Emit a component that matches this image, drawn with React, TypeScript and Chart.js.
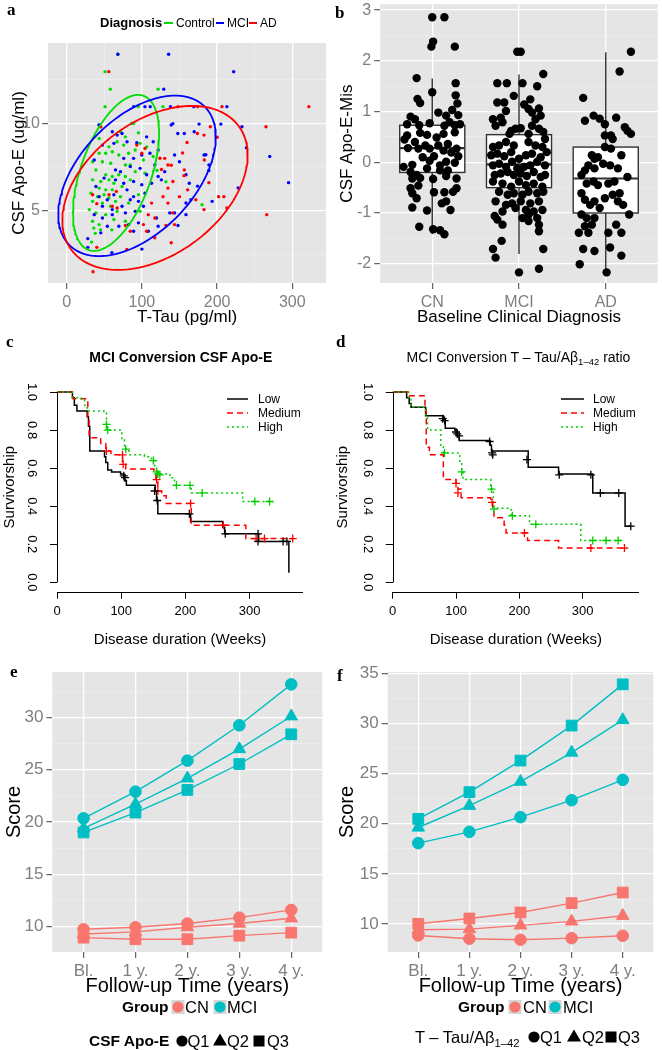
import React, { useEffect, useRef } from 'react';
import { Chart, registerables } from 'chart.js';

Chart.register(...registerables);

const SANS = "'Liberation Sans', Arial, Helvetica, sans-serif";
const SERIF = "'Liberation Serif', 'Times New Roman', Times, serif";

// ---------------- Panel a data ----------------
const diagnosisGroups = ['Control', 'MCI', 'AD'];
const diagnosisColors = ['#00DD00', '#0000FF', '#FF0000'];
const controlPoints = [
  [68, 13.95], [51, 12.95], [58, 11.95], [121.5, 11.95], [51, 10.95], [95, 10.95], [128, 10.95], [86.7, 10.0],
  [88.9, 9.98], [71.5, 9.51], [95.4, 9.45], [78, 9.22], [43.1, 9.13], [67.1, 8.94], [56.2, 8.65], [75.8, 8.75], [97.6, 8.85],
  [43.1, 8.28], [51.8, 8.28], [60.6, 8.37], [69.3, 8.18], [82.3, 8.28], [91.1, 8.47], [106.3, 8.65],
  [34.4, 7.8], [47.5, 7.8], [58.4, 7.71], [78, 7.61], [84.5, 7.61], [102, 7.9],
  [38.8, 7.33], [51.8, 7.05], [60.6, 6.95], [69.3, 7.05], [78, 6.95], [91.1, 7.23], [104.1, 7.14],
  [34.4, 6.76], [45.3, 6.67], [56.2, 6.76], [62.7, 6.57], [84.5, 6.76],
  [43.1, 6.29], [51.8, 6.19], [60.6, 6.19], [73.6, 6.38],
  [32.2, 6.0], [41, 5.8], [49.7, 5.91], [56.2, 5.72], [71.5, 5.8], [95.4, 5.91],
  [34.4, 5.53], [47.5, 5.43], [58.4, 5.25], [64.9, 5.53], [82.3, 5.43],
  [30, 5.06], [38.8, 4.87], [51.8, 4.77], [67.1, 4.96], [97.6, 4.96],
  [34.4, 4.39], [43.1, 4.2], [62.7, 4.49], [78, 4.39],
  [33, 3.2], [38, 3.7], [36, 4.0], [45, 3.9], [60, 3.9], [180, 5.34], [132, 6.65], [43, 9.9], [115, 8.1], [120, 7.3],
];
const mciPoints = [
  [68, 13.95], [135.5, 13.95], [222, 12.95], [129, 11.95], [89, 10.95], [104, 10.95], [111, 10.95], [138, 10.95], [169, 10.95], [213, 10.95],
  [43, 9.9], [139, 9.9], [176, 9.95], [205, 9.95], [233, 9.8], [239, 8.6], [270, 8.1], [295, 6.6], [228, 6.3], [185, 8.2],
  [189, 7.3], [174, 6.4], [148, 4.15], [100, 2.8], [60, 2.6], [28, 3.4], [28, 2.9], [137, 4.87], [158.6, 5.44],
  [60.6, 9.51], [67.1, 9.32], [73.6, 9.41], [47.5, 8.75], [36.6, 7.9], [62.7, 8.85], [80.2, 8.94], [93.2, 8.88], [106.3, 9.22],
  [115, 8.94], [121.6, 8.47], [110.7, 8.28], [99.8, 8.18], [88.9, 7.99], [75.8, 7.99], [64.9, 7.33], [71.5, 7.23], [84.5, 7.52],
  [97.6, 7.42], [106.3, 7.05], [117.2, 7.61], [121.6, 6.95], [49.7, 6.86], [38.8, 6.38], [64.9, 6.76], [75.8, 6.57], [88.9, 6.67],
  [99.8, 6.48], [112.8, 6.57], [130.3, 7.23], [125.9, 6.76], [43.1, 5.8], [54, 5.62], [62.7, 5.91], [80.2, 6.19], [88.9, 5.8],
  [104.1, 6.0], [47.5, 5.25], [60.6, 5.06], [73.6, 5.25], [84.5, 5.62], [95.4, 5.53], [78, 4.87], [91.1, 4.96], [102, 5.25],
  [36.6, 4.77], [47.5, 4.58], [60.6, 4.77], [69.3, 4.11], [82.3, 4.2], [54, 4.11], [45.3, 3.73], [95.4, 4.3], [141.2, 9.98],
  [147.7, 9.41], [156.4, 9.41], [169.5, 9.51], [143.4, 8.18], [149.9, 7.8], [158.6, 7.05], [163, 6.57], [182.6, 8.18],
  [189.1, 7.61], [193.4, 5.53], [165.1, 5.62], [158.6, 4.77], [143.4, 4.87], [119.4, 4.58], [121.6, 4.11], [108.5, 3.82], [88.9, 3.82],
];
const adPoints = [
  [56, 12.95], [148, 10.95], [174, 10.95], [206.5, 10.95], [322, 10.95], [191, 9.8], [265, 9.8], [200, 9.2], [160, 8.9],
  [183, 7.9], [189, 6.6], [202, 5.8], [209, 5.8], [213, 5.15], [266, 4.77], [154, 8.3], [156, 7.0], [139, 7.6], [126, 7.35],
  [124, 8.0], [141, 4.87], [132, 4.15], [139, 3.16], [117, 3.45], [80, 2.78], [35, 1.5], [40, 2.9],
  [45.3, 9.79], [104.1, 8.56], [99.8, 8.28], [130.3, 7.99], [134.6, 7.61], [156.4, 7.33], [141.2, 6.67], [134.6, 6.29],
  [128.1, 5.8], [149.9, 5.8], [160.8, 6.19], [171.7, 5.62], [134.6, 5.43], [112.8, 5.43], [108.5, 4.77], [117.2, 4.58],
  [102, 4.2], [143.4, 4.2], [78, 4.15], [84.5, 3.82], [60.6, 5.25], [67.1, 5.15], [56.2, 5.91], [34.4, 5.91], [106.3, 3.82],
  [182.6, 5.06], [173.8, 9.41], [182.6, 9.32], [93.2, 8.75], [40, 5.4], [66, 6.1],
];
const ellipseCenter = [[65.6, 7.16], [93.5, 6.99], [117.4, 6.30]];
const ellipseAxisU = [[29.3, 4.46], [50.5, 4.59], [49.2, 4.69]];
const ellipseAxisV = [[49.2, 0], [91.8, 0], [113, 0]];
const tauMajorTicks = [0, 100, 200, 300];
const tauMinorTicks = [50, 150, 250];
const apoeMajorTicks = [5, 10];
const apoeMinorTicks = [2.5, 7.5, 12.5];

// ---------------- Panel b data ----------------
const baselineCategories = ['CN', 'MCI', 'AD'];
const boxLower = [-1.42, -1.81, -2.16];
const boxQ1 = [-0.2, -0.5, -1.0];
const boxMedian = [0.28, -0.04, -0.32];
const boxQ3 = [0.73, 0.545, 0.3];
const boxUpper = [1.65, 1.73, 2.17];
const cnJitter = [
  [0.0, 2.86], [0.14, 2.86], [0.01, 2.38], [-0.01, 2.28], [0.26, 2.28], [-0.18, 1.66], [0.0, 1.38], [0.27, 1.56], [-0.17, 1.25],
  [-0.14, 1.17], [0.27, 1.32], [0.29, 1.16], [0.07, 0.98], [0.16, 0.92], [0.23, 1.03], [0.3, 0.93], [-0.25, 0.9], [-0.2, 0.85],
  [-0.29, 0.75], [-0.15, 0.73], [-0.03, 0.77], [0.14, 0.72], [0.2, 0.79], [0.26, 0.73], [0.32, 0.75], [-0.29, 0.53], [-0.14, 0.58],
  [-0.06, 0.54], [0.05, 0.49], [0.13, 0.56], [0.26, 0.59], [-0.32, 0.45], [-0.2, 0.4], [-0.08, 0.33], [0.07, 0.33], [0.18, 0.36],
  [0.28, 0.27], [-0.28, 0.28], [-0.16, 0.27], [-0.03, 0.27], [0.13, 0.23], [0.22, 0.19], [0.3, 0.12], [-0.11, 0.1], [-0.03, 0.03],
  [0.09, -0.06], [0.16, 0.01], [0.26, -0.01], [-0.33, -0.09], [-0.23, -0.05], [0.02, 0.12], [-0.25, -0.19], [-0.18, -0.25],
  [-0.06, -0.12], [0.09, -0.16], [0.18, -0.16], [0.28, -0.32], [-0.23, -0.32], [-0.14, -0.31], [-0.25, -0.51], [-0.16, -0.46],
  [0.01, -0.33], [0.16, -0.27], [0.28, -0.51], [-0.23, -0.61], [-0.18, -0.71], [0.14, -0.59], [0.24, -0.58], [0.02, -0.59],
  [-0.23, -0.89], [0.16, -0.77], [0.21, -0.94], [-0.06, -0.95], [0.11, -0.81], [-0.15, -1.27], [0.01, -1.32], [0.09, -1.34], [0.14, -1.42],
];
const mciJitter = [
  [-0.02, 2.18], [0.02, 2.18], [-0.25, 1.56], [-0.14, 1.56], [0.04, 1.56], [0.28, 1.74], [0.21, 1.5], [-0.06, 1.31], [0.13, 1.24],
  [-0.25, 1.18], [-0.17, 1.18], [0.06, 1.14], [0.11, 1.05], [0.23, 1.06], [-0.3, 0.85], [-0.21, 0.88], [-0.15, 1.01], [0.15, 0.98],
  [0.19, 0.85], [0.25, 0.92], [-0.27, 0.72], [-0.19, 0.79], [-0.09, 0.62], [-0.04, 0.66], [0.02, 0.67], [0.15, 0.72], [0.23, 0.66],
  [0.28, 0.6], [-0.11, 0.56], [0.11, 0.56], [-0.3, 0.3], [-0.23, 0.33], [-0.15, 0.4], [-0.06, 0.33], [0.11, 0.4], [0.19, 0.33],
  [0.27, 0.3], [0.3, 0.46], [-0.32, 0.14], [-0.25, 0.17], [-0.17, 0.12], [-0.09, 0.2], [0.0, 0.07], [0.08, 0.14], [0.15, 0.17],
  [0.25, 0.1], [0.32, 0.2], [-0.3, -0.06], [-0.23, -0.03], [-0.15, -0.09], [-0.08, 0.01], [-0.02, -0.12], [0.06, -0.09],
  [0.13, -0.06], [0.21, 0.01], [0.3, -0.06], [-0.28, -0.25], [-0.21, -0.22], [-0.13, -0.19], [-0.06, -0.25], [0.02, -0.22],
  [0.09, -0.27], [0.17, -0.19], [0.25, -0.29], [0.3, -0.25], [-0.3, -0.38], [-0.19, -0.42], [-0.09, -0.48], [0.0, -0.38],
  [0.08, -0.45], [0.17, -0.42], [0.27, -0.48], [-0.23, -0.58], [-0.13, -0.64], [-0.06, -0.61], [0.04, -0.64], [0.11, -0.58],
  [0.21, -0.61], [0.28, -0.58], [-0.27, -0.77], [-0.15, -0.84], [-0.08, -0.81], [0.02, -0.77], [0.13, -0.81], [0.23, -0.77],
  [-0.19, -0.97], [-0.04, -0.9], [0.08, -0.94], [0.17, -0.97], [0.27, -0.94], [-0.28, -1.06], [-0.25, -1.13], [0.04, -1.1],
  [0.11, -1.03], [0.21, -1.1], [0.11, -1.16], [0.23, -1.23], [-0.19, -1.23], [0.23, -1.36], [-0.2, -1.55], [-0.3, -1.71],
  [-0.27, -1.88], [0.28, -1.71], [0.0, -2.17], [0.23, -2.1],
];
const adJitter = [
  [0.29, 2.18], [0.16, 1.79], [-0.26, 1.27], [-0.24, 0.82], [-0.14, 0.92], [-0.07, 0.86], [-0.01, 0.75], [0.12, 0.88], [0.22, 0.69],
  [0.25, 0.62], [0.29, 0.56], [-0.01, 0.53], [0.06, 0.53], [0.08, 0.46], [-0.01, 0.3], [0.06, 0.27], [0.18, 0.14], [-0.16, 0.14],
  [-0.13, 0.07], [-0.09, 0.1], [-0.2, -0.06], [-0.24, -0.16], [-0.13, -0.12], [-0.03, -0.03], [0.05, -0.06], [0.14, -0.12],
  [0.25, -0.29], [-0.28, -0.25], [-0.22, -0.42], [-0.14, -0.38], [-0.09, -0.45], [0.03, -0.42], [0.1, -0.38], [0.16, -0.61],
  [-0.28, -0.61], [-0.24, -0.74], [-0.18, -0.84], [-0.13, -0.77], [-0.01, -0.71], [0.08, -0.64], [0.14, -0.77], [0.2, -0.84],
  [0.27, -1.03], [-0.28, -1.03], [-0.22, -1.1], [-0.13, -1.1], [-0.07, -0.9], [-0.24, -1.26], [-0.16, -1.23], [0.03, -1.39],
  [0.12, -1.23], [0.18, -1.39], [-0.31, -1.39], [-0.2, -1.39], [-0.26, -1.71], [-0.13, -1.75], [0.05, -1.68], [0.18, -1.84],
  [-0.3, -2.01], [0.01, -2.17],
];
const misMajorTicks = [-2, -1, 0, 1, 2, 3];
const misMinorTicks = [-1.5, -0.5, 0.5, 1.5, 2.5];

// ---------------- Panel c / d data (time in weeks, survival) ----------------
const strata = ['Low', 'Medium', 'High'];
const strataColors = ['#000000', '#FF0000', '#00CC00'];
const apoeLowCurve = [[0, 1], [24, 0.97], [27, 0.93], [31, 0.9], [47, 0.87], [49, 0.82], [51, 0.69], [74, 0.66], [76, 0.63], [79, 0.59], [85, 0.58], [99, 0.57], [104, 0.556], [105, 0.535], [108, 0.51], [153, 0.48], [155, 0.43], [157, 0.36], [208, 0.32], [258, 0.29], [261, 0.255], [314, 0.215], [361, 0.05]];
const apoeLowCensor = [[104, 0.56], [106, 0.55], [152, 0.48], [156, 0.43], [206, 0.36], [262, 0.255], [313, 0.255], [313, 0.215], [352, 0.215], [358, 0.215]];
const apoeMedCurve = [[0, 1], [25, 0.965], [48, 0.86], [50, 0.76], [68, 0.73], [76, 0.69], [84, 0.67], [102, 0.62], [107, 0.595], [151, 0.57], [154, 0.54], [157, 0.48], [163, 0.455], [170, 0.415], [209, 0.3], [294, 0.23], [367, 0.23]];
const apoeMedCensor = [[77, 0.69], [102, 0.67], [103, 0.62], [155, 0.54], [157, 0.48], [208, 0.415], [259, 0.3], [310, 0.23], [323, 0.23], [367, 0.23]];
const apoeHighCurve = [[0, 1], [24, 0.97], [38, 0.965], [43, 0.93], [47, 0.9], [73, 0.89], [77, 0.8], [101, 0.75], [105, 0.7], [112, 0.67], [136, 0.66], [147, 0.64], [152, 0.6], [155, 0.58], [159, 0.57], [176, 0.55], [183, 0.51], [209, 0.47], [289, 0.425], [336, 0.425]];
const apoeHighCensor = [[77, 0.83], [79, 0.8], [107, 0.7], [150, 0.64], [155, 0.58], [157, 0.57], [160, 0.565], [186, 0.51], [207, 0.51], [226, 0.47], [308, 0.425], [331, 0.425]];
const ratioLowCurve = [[0, 1], [22, 0.97], [26, 0.94], [29, 0.92], [52, 0.875], [80, 0.855], [83, 0.81], [98, 0.8], [102, 0.77], [105, 0.745], [154, 0.72], [156, 0.69], [214, 0.605], [262, 0.57], [316, 0.47], [367, 0.295], [376, 0.295]];
const ratioLowCensor = [[79, 0.86], [82, 0.85], [100, 0.79], [102, 0.78], [105, 0.77], [153, 0.74], [157, 0.68], [158, 0.67], [212, 0.645], [263, 0.565], [313, 0.565], [328, 0.47], [357, 0.47], [376, 0.295]];
const ratioMedCurve = [[0, 1], [24, 0.98], [51, 0.92], [53, 0.71], [58, 0.67], [80, 0.54], [100, 0.52], [103, 0.49], [108, 0.445], [155, 0.43], [158, 0.39], [160, 0.34], [176, 0.3], [179, 0.26], [213, 0.22], [262, 0.18], [370, 0.18]];
const ratioMedCensor = [[100, 0.52], [103, 0.47], [157, 0.42], [208, 0.26], [313, 0.18], [366, 0.18]];
const ratioHighCurve = [[0, 1], [25, 0.97], [29, 0.92], [52, 0.88], [55, 0.81], [60, 0.8], [76, 0.72], [80, 0.68], [106, 0.63], [109, 0.58], [111, 0.54], [155, 0.49], [159, 0.39], [187, 0.35], [216, 0.305], [297, 0.22], [360, 0.22]];
const ratioHighCensor = [[82, 0.68], [109, 0.58], [156, 0.49], [160, 0.385], [189, 0.35], [226, 0.305], [316, 0.22], [337, 0.22], [356, 0.22]];
const weekTicks = [0, 100, 200, 300];
const survTicks = [0, 0.2, 0.4, 0.6, 0.8, 1.0];

// ---------------- Panel e / f data ----------------
const followLabels = ['Bl.', '1 y.', '2 y.', '3 y.', '4 y.'];
const quartiles = ['Q1', 'Q2', 'Q3'];
const groupNames = ['CN', 'MCI'];
const groupColors = ['#F8766D', '#00BFC4'];
const apoeMciQ1 = [20.35, 22.9, 25.86, 29.24, 33.15];
const apoeMciQ2 = [19.4, 21.7, 24.17, 26.97, 30.1];
const apoeMciQ3 = [19.0, 20.9, 23.06, 25.54, 28.38];
const apoeCnQ1 = [9.75, 9.94, 10.3, 10.86, 11.6];
const apoeCnQ2 = [9.3, 9.5, 9.95, 10.3, 10.8];
const apoeCnQ3 = [8.95, 8.8, 8.8, 9.14, 9.43];
const ratioMciQ1 = [18.07, 19.2, 20.66, 22.35, 24.38];
const ratioMciQ2 = [19.63, 21.8, 24.2, 27.1, 30.35];
const ratioMciQ3 = [20.49, 23.15, 26.3, 29.79, 33.9];
const ratioCnQ1 = [8.87, 8.54, 8.44, 8.6, 8.84];
const ratioCnQ2 = [9.44, 9.5, 9.87, 10.27, 10.83];
const ratioCnQ3 = [10.03, 10.56, 11.16, 12.09, 13.15];
const scoreMajorE = [10, 15, 20, 25, 30];
const scoreMinorE = [12.5, 17.5, 22.5, 27.5, 32.5];
const scoreMajorF = [10, 15, 20, 25, 30, 35];
const scoreMinorF = [12.5, 17.5, 22.5, 27.5, 32.5];
const followTicks = [0, 1, 2, 3, 4];

// ---------------- helpers ----------------
const panelBg = {
  id: 'panelBg',
  beforeDraw(chart: any) {
    const { ctx, chartArea: a } = chart;
    ctx.save();
    ctx.fillStyle = '#E5E5E5';
    ctx.fillRect(a.left, a.top, a.right - a.left, a.bottom - a.top);
    ctx.restore();
  },
};

function geom(w: number, h: number, l: number, t: number, r: number, b: number) {
  const zero = (s: any) => { s.paddingLeft = 0; s.paddingRight = 0; s.paddingTop = 0; s.paddingBottom = 0; };
  return {
    layout: { padding: { left: 0, top: t, right: w - r, bottom: 0 } },
    fitX: (s: any) => { s.height = h - b; zero(s); },
    fitY: (s: any) => { s.width = l; zero(s); },
  };
}

function ggScale(p: any) {
  const all = [...p.minors, ...p.majors].sort((a: number, b: number) => a - b);
  const isMaj = (v: number) => p.majors.some((m: number) => Math.abs(m - v) < 1e-9);
  const tv = (c: any) => (c && c.tick ? c.tick.value : 0);
  return {
    type: 'linear', min: p.min, max: p.max,
    afterBuildTicks: (s: any) => { s.ticks = all.map((v: number) => ({ value: v })); },
    afterFit: p.fit,
    border: { display: false },
    grid: {
      color: (c: any) => (isMaj(tv(c)) ? '#FFFFFF' : '#F2F2F2'),
      lineWidth: (c: any) => (isMaj(tv(c)) ? 1.3 : 0.6),
      tickColor: (c: any) => (isMaj(tv(c)) ? '#555555' : 'rgba(0,0,0,0)'),
      tickWidth: 1.1,
      tickLength: p.tickLen, drawTicks: true, drawOnChartArea: true,
    },
    ticks: {
      autoSkip: false, maxRotation: 0, minRotation: 0, padding: p.tickPad, color: '#7F7F7F',
      font: { family: SANS, size: p.size },
      callback: (v: number) => (isMaj(v) ? p.label(v) : ''),
    },
    title: {
      display: true, text: p.title, color: '#000', font: { family: SANS, size: p.tsize },
      padding: p.vertical ? { top: p.tpad, bottom: 0 } : { top: 0, bottom: p.tpad },
    },
  };
}

function baseOpts(layout: any, scales: any) {
  return {
    animation: false, responsive: false, events: [],
    layout,
    plugins: { legend: { display: false }, tooltip: { enabled: false }, title: { display: false } },
    scales,
  };
}

function ellipsePath(c: number[], u: number[], v: number[]) {
  const pts = [];
  for (let i = 0; i <= 160; i++) {
    const t = (2 * Math.PI * i) / 160;
    pts.push({ x: c[0] + u[0] * Math.cos(t) + v[0] * Math.sin(t), y: c[1] + u[1] * Math.cos(t) + v[1] * Math.sin(t) });
  }
  return pts;
}

const xy = (arr: number[][]) => arr.map(([x, y]) => ({ x, y }));

// ---------------- panel configs ----------------
function makeA() {
  const g = geom(331, 330, 48, 43, 326, 283);
  const pts = [controlPoints, mciPoints, adPoints];
  const datasets: any[] = [];
  [2, 1, 0].forEach((i, k) => {
    datasets.push({
      label: diagnosisGroups[i] + ' ellipse', data: ellipsePath(ellipseCenter[i], ellipseAxisU[i], ellipseAxisV[i]),
      showLine: true, borderColor: diagnosisColors[i], borderWidth: 1.8, pointRadius: 0, tension: 0, order: k,
    });
  });
  [2, 1, 0].forEach((i, k) => {
    datasets.push({
      label: diagnosisGroups[i], data: xy(pts[i]), backgroundColor: diagnosisColors[i], borderWidth: 0,
      pointRadius: 1.7, order: 5 + k,
    });
  });
  return {
    type: 'scatter', data: { datasets }, plugins: [panelBg],
    options: baseOpts(g.layout, {
      x: ggScale({ min: -24.9, max: 344.8, majors: tauMajorTicks, minors: tauMinorTicks, label: (v: number) => String(v), size: 16, title: 'T-Tau (pg/ml)', tsize: 17, tpad: 2.8, fit: g.fitX, tickLen: 6, tickPad: 4 }),
      y: ggScale({ min: 0.86, max: 14.59, majors: apoeMajorTicks, minors: apoeMinorTicks, label: (v: number) => String(v), size: 16, title: 'CSF Apo-E (ug/ml)', tsize: 17, tpad: 9, fit: g.fitY, tickLen: 6, tickPad: 2, vertical: true }),
    }),
  };
}

// box (Q1-Q3), whiskers and median, drawn through the chart's scales before the jittered points
const boxPlugin = {
  id: 'boxWhisk',
  beforeDatasetsDraw(chart: any) {
    const { ctx } = chart;
    const xs = chart.scales.x, ys = chart.scales.y;
    ctx.save();
    ctx.strokeStyle = '#333333';
    boxQ1.forEach((q1, i) => {
      const cx = xs.getPixelForValue(i + 1);
      const x0 = xs.getPixelForValue(i + 1 - 0.375);
      const x1 = xs.getPixelForValue(i + 1 + 0.375);
      const yq1 = ys.getPixelForValue(q1);
      const yq3 = ys.getPixelForValue(boxQ3[i]);
      ctx.lineWidth = 1.4;
      ctx.beginPath();
      ctx.moveTo(cx, yq3);
      ctx.lineTo(cx, ys.getPixelForValue(boxUpper[i]));
      ctx.moveTo(cx, yq1);
      ctx.lineTo(cx, ys.getPixelForValue(boxLower[i]));
      ctx.stroke();
      ctx.fillStyle = '#FFFFFF';
      ctx.fillRect(x0, yq3, x1 - x0, yq1 - yq3);
      ctx.strokeRect(x0, yq3, x1 - x0, yq1 - yq3);
      ctx.lineWidth = 2.2;
      ctx.beginPath();
      const my = ys.getPixelForValue(boxMedian[i]);
      ctx.moveTo(x0, my);
      ctx.lineTo(x1, my);
      ctx.stroke();
    });
    ctx.restore();
  },
};

function makeB() {
  const g = geom(331, 330, 49.2, 0, 331, 283);
  const jit = [cnJitter, mciJitter, adJitter];
  const points: any[] = [];
  jit.forEach((arr, i) => arr.forEach(([o, v]) => points.push({ x: i + 1 + o, y: v })));
  return {
    type: 'scatter', plugins: [panelBg, boxPlugin],
    data: {
      datasets: [
        { label: 'CSF Apo-E-Mis', data: points, backgroundColor: '#000000', borderWidth: 0, pointRadius: 4.2 },
      ],
    },
    options: baseOpts(g.layout, {
      x: ggScale({ min: 0.4, max: 3.6, majors: [1, 2, 3], minors: [], label: (v: number) => baselineCategories[v - 1], size: 16, title: 'Baseline Clinical Diagnosis', tsize: 17, tpad: 2.8, fit: g.fitX, tickLen: 6, tickPad: 4 }),
      y: ggScale({ min: -2.38, max: 3.117, majors: misMajorTicks, minors: misMinorTicks, label: (v: number) => String(v), size: 16, title: 'CSF Apo-E-Mis', tsize: 17, tpad: 5.8, fit: g.fitY, tickLen: 6, tickPad: 3, vertical: true }),
    }),
  };
}

function rAxes(xEnd: number) {
  return {
    id: 'rAxes',
    afterDatasetsDraw(chart: any) {
      const { ctx, chartArea: a } = chart;
      const xs = chart.scales.x, ys = chart.scales.y;
      ctx.save();
      ctx.strokeStyle = '#000';
      ctx.lineWidth = 1;
      ctx.beginPath();
      const lx = Math.round(a.left) + 0.5;
      const by = Math.round(a.bottom) + 0.5;
      ctx.moveTo(lx, ys.getPixelForValue(0));
      ctx.lineTo(lx, ys.getPixelForValue(1));
      ctx.moveTo(xs.getPixelForValue(0), by);
      ctx.lineTo(xs.getPixelForValue(xEnd), by);
      ctx.stroke();
      ctx.restore();
    },
  };
}

function makeKM(curves: number[][][], censors: number[][][], l: number, r: number, xMax: number, ytpad: number) {
  const g = geom(331, 325, l, 52.7, r, 261.7);
  const dashes = [[], [6, 4], [2, 3]];
  const datasets: any[] = [];
  censors.forEach((c, i) => datasets.push({
    label: strata[i] + ' censored', data: xy(c), showLine: false, pointStyle: 'cross', pointRadius: 4,
    borderColor: strataColors[i], borderWidth: 1.3, order: 1,
  }));
  curves.forEach((c, i) => datasets.push({
    label: strata[i], data: xy(c), showLine: true, stepped: 'before', borderColor: strataColors[i],
    borderWidth: 1.5, borderDash: dashes[i], pointRadius: 0, order: 2 + (2 - i),
  }));
  return {
    type: 'scatter', data: { datasets }, plugins: [rAxes(xMax)],
    options: baseOpts(g.layout, {
      x: {
        type: 'linear', min: 0, max: xMax,
        afterBuildTicks: (s: any) => { s.ticks = weekTicks.map((v) => ({ value: v })); },
        afterFit: g.fitX, border: { display: false },
        grid: { drawOnChartArea: false, drawTicks: true, tickLength: 7, tickColor: '#000', tickWidth: 1 },
        ticks: { autoSkip: false, maxRotation: 0, minRotation: 0, padding: 5, color: '#000', font: { family: SANS, size: 13 }, callback: (v: number) => String(v) },
        title: { display: true, text: 'Disease duration (Weeks)', color: '#000', font: { family: SANS, size: 15 }, padding: { top: 0, bottom: 6 } },
      },
      y: {
        type: 'linear', min: -0.049, max: 1.049,
        afterBuildTicks: (s: any) => { s.ticks = survTicks.map((v) => ({ value: v })); },
        afterFit: g.fitY, border: { display: false },
        grid: { drawOnChartArea: false, drawTicks: true, tickLength: 7, tickColor: '#000', tickWidth: 1 },
        ticks: { autoSkip: false, minRotation: -90, maxRotation: -90, crossAlign: 'center', padding: 9, color: '#000', font: { family: SANS, size: 13 }, callback: (v: number) => v.toFixed(1) },
        title: { display: true, text: 'Survivorship', color: '#000', font: { family: SANS, size: 15 }, padding: { top: ytpad, bottom: 0 } },
      },
    }),
  };
}

const shapeStyles = ['circle', 'triangle', 'rect'];
const shapeRadius = [5.8, 7.2, 7.6];

function makeTraj(cn: number[][], mci: number[][], l: number, r: number, ymin: number, ymax: number, majors: number[], minors: number[], ytpad: number) {
  const g = geom(331, 345, l, 17, r, 297);
  const datasets: any[] = [];
  [cn, mci].forEach((grp, gi) => grp.forEach((vals, q) => datasets.push({
    label: groupNames[gi] + ' ' + quartiles[q], data: vals.map((v, i) => ({ x: followTicks[i], y: v })), showLine: true,
    borderColor: groupColors[gi], backgroundColor: groupColors[gi], borderWidth: 1.4,
    pointStyle: shapeStyles[q], pointRadius: shapeRadius[q], pointBorderWidth: 1, pointBorderColor: groupColors[gi],
  })));
  return {
    type: 'scatter', data: { datasets }, plugins: [panelBg],
    options: baseOpts(g.layout, {
      x: ggScale({ min: -0.6, max: 4.6, majors: followTicks, minors: [], label: (v: number) => followLabels[v], size: 17, title: 'Follow-up Time (years)', tsize: 20, tpad: 1.3, fit: g.fitX, tickLen: 6, tickPad: 3.5 }),
      y: ggScale({ min: ymin, max: ymax, majors, minors, label: (v: number) => String(v), size: 17, title: 'Score', tsize: 20, tpad: ytpad, fit: g.fitY, tickLen: 6, tickPad: 3, vertical: true }),
    }),
  };
}

// ---------------- components ----------------
function ChartCanvas({ left, top, width, height, make }: any) {
  const ref = useRef<HTMLCanvasElement>(null);
  useEffect(() => {
    const chart = new Chart(ref.current as HTMLCanvasElement, make());
    return () => chart.destroy();
  }, []);
  return <canvas ref={ref} width={width} height={height} style={{ position: 'absolute', left, top, width, height }} />;
}

function Txt({ x, y, size, bold = false, serif = false, center = false, color = '#000', children }: any) {
  return (
    <div style={{
      position: 'absolute', left: x, top: y, fontFamily: serif ? SERIF : SANS, fontSize: size,
      fontWeight: bold ? 700 : 400, lineHeight: 0, whiteSpace: 'nowrap', color,
      transform: center ? 'translateX(-50%)' : undefined,
    }}>{children}</div>
  );
}

function Seg({ x1, x2, y, color, width = 1.5, dash }: any) {
  return (
    <svg style={{ position: 'absolute', left: x1, top: y - 4, overflow: 'visible' }} width={x2 - x1} height={8}>
      <line x1={0} y1={4} x2={x2 - x1} y2={4} stroke={color} strokeWidth={width} strokeDasharray={dash} />
    </svg>
  );
}

function Mark({ cx, cy, kind, color = '#000', key2 }: any) {
  const s = 16;
  return (
    <svg style={{ position: 'absolute', left: cx - s / 2, top: cy - s / 2 }} width={s} height={s}>
      {key2 ? <rect x={1.5} y={1} width={13} height={14} fill="#D6D6D6" /> : null}
      {kind === 'circle' ? <circle cx={8} cy={8} r={5.6} fill={color} /> : null}
      {kind === 'triangle' ? <polygon points="8,1.5 15,13.5 1,13.5" fill={color} /> : null}
      {kind === 'square' ? <rect x={2.5} y={2.5} width={11} height={11} fill={color} /> : null}
    </svg>
  );
}

const Sub = ({ children }: any) => <span style={{ fontSize: '0.68em', position: 'relative', top: '0.32em' }}>{children}</span>;

export default function App() {
  return (
    <div style={{ position: 'absolute', left: 0, top: 0, width: 662, height: 1050, background: '#fff', overflow: 'hidden' }}>
      <ChartCanvas left={0} top={0} width={331} height={330} make={makeA} />
      <ChartCanvas left={331} top={0} width={331} height={330} make={makeB} />
      <ChartCanvas left={0} top={330} width={331} height={325}
        make={() => makeKM([apoeLowCurve, apoeMedCurve, apoeHighCurve], [apoeLowCensor, apoeMedCensor, apoeHighCensor], 57, 303, 383, 0.5)} />
      <ChartCanvas left={331} top={330} width={331} height={325}
        make={() => makeKM([ratioLowCurve, ratioMedCurve, ratioHighCurve], [ratioLowCensor, ratioMedCensor, ratioHighCensor], 61.7, 308, 389, 2.5)} />
      <ChartCanvas left={0} top={655} width={331} height={345}
        make={() => makeTraj([apoeCnQ1, apoeCnQ2, apoeCnQ3], [apoeMciQ1, apoeMciQ2, apoeMciQ3], 52.4, 326.3, 7.58, 34.33, scoreMajorE, scoreMinorE, 2.5)} />
      <ChartCanvas left={331} top={655} width={331} height={345}
        make={() => makeTraj([ratioCnQ1, ratioCnQ2, ratioCnQ3], [ratioMciQ1, ratioMciQ2, ratioMciQ3], 56.6, 331, 7.22, 35.13, scoreMajorF, scoreMinorF, 4.5)} />

      {/* panel letters */}
      <Txt x={7} y={9.8} size={17} bold serif>a</Txt>
      <Txt x={335} y={13.3} size={17} bold serif>b</Txt>
      <Txt x={6} y={341.6} size={17} bold serif>c</Txt>
      <Txt x={336} y={341.6} size={17} bold serif>d</Txt>
      <Txt x={10} y={671.6} size={17} bold serif>e</Txt>
      <Txt x={337} y={676.3} size={17} bold serif>f</Txt>

      {/* panel a legend */}
      <Txt x={100} y={23} size={13} bold>Diagnosis</Txt>
      <Seg x1={164} x2={173} y={23} color={diagnosisColors[0]} width={2} />
      <Txt x={176} y={23} size={12}>{diagnosisGroups[0]}</Txt>
      <Seg x1={216} x2={224} y={23} color={diagnosisColors[1]} width={2} />
      <Txt x={227} y={23} size={12}>{diagnosisGroups[1]}</Txt>
      <Seg x1={249} x2={257} y={23} color={diagnosisColors[2]} width={2} />
      <Txt x={260} y={23} size={12}>{diagnosisGroups[2]}</Txt>

      {/* panel c title and legend */}
      <Txt x={180.8} y={356.7} size={14} bold center>MCI Conversion CSF Apo-E</Txt>
      {strata.map((s, i) => (
        <React.Fragment key={'c' + s}>
          <Seg x1={227} x2={248} y={399 + i * 14} color={strataColors[i]} width={1.5} dash={i === 1 ? '6 4' : i === 2 ? '2 3' : undefined} />
          <Txt x={258} y={399 + i * 14} size={12}>{s}</Txt>
        </React.Fragment>
      ))}

      {/* panel d title and legend */}
      <Txt x={518.5} y={356.7} size={14} center>MCI Conversion T – Tau/Aβ<Sub>1–42</Sub> ratio</Txt>
      {strata.map((s, i) => (
        <React.Fragment key={'d' + s}>
          <Seg x1={561} x2={584} y={399 + i * 14} color={strataColors[i]} width={1.5} dash={i === 1 ? '6 4' : i === 2 ? '2 3' : undefined} />
          <Txt x={593} y={399 + i * 14} size={12}>{s}</Txt>
        </React.Fragment>
      ))}

      {/* panel e legends */}
      <Txt x={122} y={1007} size={15.5} bold>Group</Txt>
      <Mark cx={178} cy={1007} kind="circle" color={groupColors[0]} key2 />
      <Txt x={185} y={1007} size={16.5}>{groupNames[0]}</Txt>
      <Mark cx={219.5} cy={1007} kind="circle" color={groupColors[1]} key2 />
      <Txt x={227} y={1007} size={16.5}>{groupNames[1]}</Txt>
      <Txt x={89} y={1041} size={15.5} bold>CSF Apo-E</Txt>
      <Mark cx={181.5} cy={1041} kind="circle" />
      <Txt x={187.5} y={1041} size={16.5}>{quartiles[0]}</Txt>
      <Mark cx={219.5} cy={1040} kind="triangle" />
      <Txt x={227} y={1041} size={16.5}>{quartiles[1]}</Txt>
      <Mark cx={259} cy={1041} kind="square" />
      <Txt x={267} y={1041} size={16.5}>{quartiles[2]}</Txt>

      {/* panel f legends */}
      <Txt x={458} y={1007} size={15.5} bold>Group</Txt>
      <Mark cx={515} cy={1007} kind="circle" color={groupColors[0]} key2 />
      <Txt x={523} y={1007} size={16.5}>{groupNames[0]}</Txt>
      <Mark cx={555} cy={1007} kind="circle" color={groupColors[1]} key2 />
      <Txt x={563} y={1007} size={16.5}>{groupNames[1]}</Txt>
      <Txt x={415} y={1037} size={16.5}>T – Tau/Aβ<Sub>1–42</Sub></Txt>
      <Mark cx={534} cy={1037} kind="circle" />
      <Txt x={540} y={1037} size={16.5}>{quartiles[0]}</Txt>
      <Mark cx={573.5} cy={1036} kind="triangle" />
      <Txt x={582} y={1037} size={16.5}>{quartiles[1]}</Txt>
      <Mark cx={611} cy={1037} kind="square" />
      <Txt x={618} y={1037} size={16.5}>{quartiles[2]}</Txt>
    </div>
  );
}
